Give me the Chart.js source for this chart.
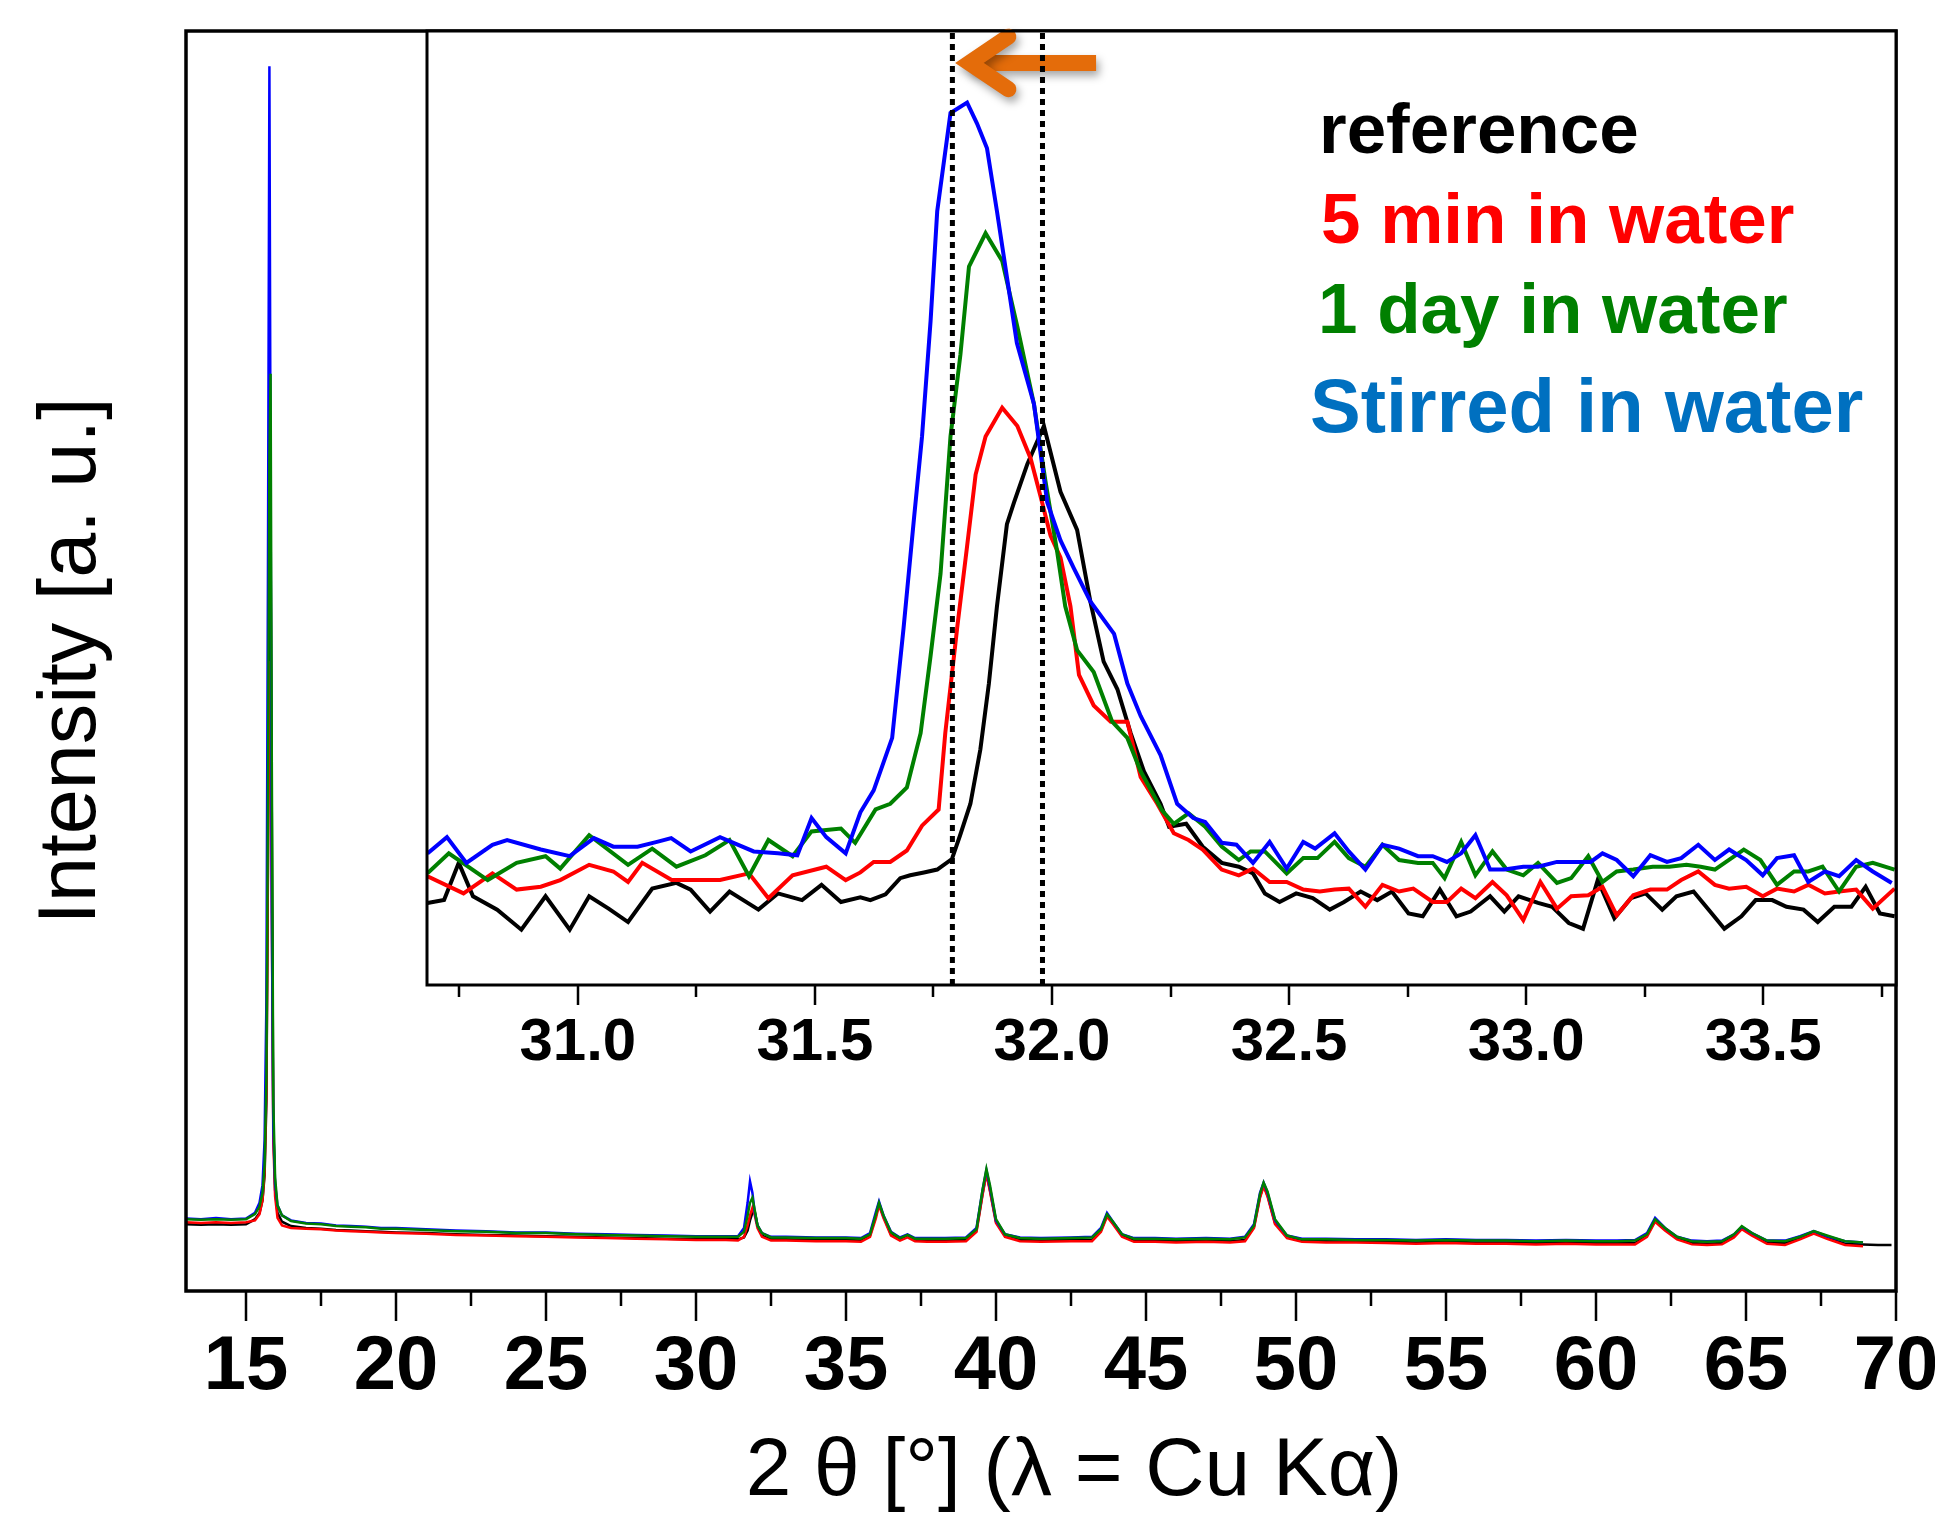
<!DOCTYPE html>
<html>
<head>
<meta charset="utf-8">
<title>XRD</title>
<script src="https://cdn.jsdelivr.net/npm/chart.js@4.4.1/dist/chart.umd.min.js"></script>
<style>
	html, body { margin: 0; padding: 0; background: #fff; }
	#quadro { position: relative; width: 1935px; height: 1522px; }
	canvas { position: absolute; left: 0; top: 0; }
	#inset { pointer-events: none; }
</style>
</head>
<body>
<div id="quadro">
	<canvas id="principal" width="1935" height="1522"></canvas>
	<canvas id="inset" width="1935" height="1522"></canvas>
</div>
<script>
// main pattern, 2 theta (deg) and intensity (a.u.)
var mainTheta = [
	13.0, 13.5, 14.0, 14.5, 15.0,
	15.3, 15.45, 15.55, 15.62, 15.68, 15.73, 15.78, 15.82, 15.86, 15.91, 15.97, 16.05, 16.2, 16.5,
	17.0, 17.5, 18.0, 18.5, 19.0, 19.5, 20.0, 21.0, 22.0, 23.0, 24.0, 25.0, 26.0, 27.0, 28.0, 29.0, 30.0, 31.0,
	31.4, 31.6, 31.72, 31.8, 31.88, 31.96, 32.05, 32.2, 32.5, 33.0, 34.0, 35.0,
	35.5, 35.8, 36.0, 36.1, 36.25, 36.5, 36.8, 37.05, 37.3, 37.7, 38.3,
	39.0, 39.35, 39.55, 39.68, 39.8, 40.0, 40.3, 40.8, 41.5, 42.5,
	43.2, 43.5, 43.7, 43.9, 44.2, 44.6, 45.3, 46.0, 47.0, 47.8,
	48.3, 48.6, 48.8, 48.92, 49.05, 49.3, 49.7, 50.2, 51.0, 52.0,
	53.0, 54.0, 55.0, 56.0, 57.0, 58.0, 59.0, 60.0, 60.7,
	61.3, 61.7, 61.97, 62.3, 62.7, 63.2, 63.7,
	64.2, 64.6, 64.86, 65.2, 65.7, 66.3, 66.8, 67.26, 67.7, 68.3, 68.9, 69.4, 69.85
];
var mainReference = [
	53, 52.5, 53, 52.5, 53,
	57, 62, 72, 92, 150, 330, 560, 595, 380, 130, 80, 62, 55, 51.5,
	50, 49.5, 48.5, 48, 47.5, 47, 46.5, 46, 45, 44.5, 44, 43.5, 43, 42.5, 42, 41.5, 41, 41,
	41, 42.5, 48, 56, 62, 63, 52, 44, 41, 41, 40.5, 40.5,
	40, 44, 60, 69, 59, 45, 41, 43.5, 40.5, 40, 40,
	40.5, 48, 77, 94, 80, 55, 44, 40.5, 40, 40.5,
	40.5, 48, 60, 54, 44, 40, 40, 39.5, 40, 39.5,
	40.5, 51, 75, 84, 76, 54, 43, 40, 39.5, 39.5,
	39, 38.5, 39, 38.5, 38.5, 38, 38.5, 38, 38,
	38, 44, 56, 49, 42, 38, 37.5,
	38, 43.5, 50, 45, 38.5, 38, 42, 46.5, 42.5, 37.5, 37, 36.5, 36.5
];
var main5min = [
	54.5, 54, 54.5, 54, 54.5,
	56, 61, 72, 95, 160, 340, 500, 470, 300, 120, 75, 58, 52, 50,
	49.5, 49, 48, 47.5, 47, 46.5, 46, 45.5, 44.5, 44, 43.5, 43, 42.5, 42, 41.5, 41, 40.5, 40.5,
	40, 43, 52, 60, 66, 60, 50, 43, 40, 40, 39.5, 39.5,
	39, 43, 58, 68, 58, 44, 40, 42.5, 39.5, 39, 39,
	39.5, 47, 76, 93, 79, 54, 43, 39.5, 39, 39.5,
	39.5, 47, 59, 53, 43, 39, 39, 38.5, 39, 38.5,
	39.5, 50, 74, 83, 75, 53, 42, 39, 38.5, 38.5,
	38, 37.5, 38, 37.5, 37.5, 37, 37.5, 37, 37,
	37, 43, 55, 48, 41, 37, 36.5,
	37, 42.5, 49, 44, 37.5, 36.5, 41, 45.5, 41.5, 36.5, 35.5, null, null
];
var main1day = [
	57, 56.5, 57, 56.5, 57,
	61, 67, 78, 100, 170, 380, 660, 728, 420, 150, 90, 68, 60, 55.5,
	53.5, 53, 51.5, 51, 50.5, 49.5, 49.5, 48.5, 47.5, 47, 46, 46, 45, 44.5, 44, 43.5, 43, 43,
	43, 47, 60, 70, 74, 64, 52, 46, 42.5, 42.5, 42, 42,
	41.5, 45, 61, 70, 60, 46.5, 42, 44.5, 41.5, 41.5, 41.5,
	42, 49, 80, 97, 84, 57, 45, 42, 41.5, 42,
	42.5, 49, 61, 55, 45, 41.5, 41.5, 41, 41.5, 41,
	42.5, 52, 77, 86, 79, 57, 44, 41, 41, 40.5,
	40.5, 40, 40.5, 40, 40, 39.5, 40, 39.5, 39.5,
	40, 45, 57, 50, 43, 39.5, 39,
	39.5, 45, 51.5, 46, 40, 39.5, 43, 47.5, 44, 39.5, 38.5, null, null
];
var mainStirred = [
	57.5, 57, 58, 57, 57.5,
	62, 70, 84, 120, 230, 560, 972, 640, 300, 130, 85, 68, 60, 56,
	54, 53.5, 52, 51.5, 51, 50, 50, 49, 48, 47.5, 46.5, 46.5, 45.5, 45, 44.5, 44, 43.5, 43.5,
	43.5, 50, 70, 87, 78, 62, 52, 46, 43, 43, 42.5, 42.5,
	42, 46, 63, 71, 60, 47, 42.5, 45, 42, 42, 42,
	42.5, 50, 80, 96, 82, 56, 45, 42.5, 42, 42.5,
	43, 50, 62, 55, 45, 42, 42, 41.5, 42, 41.5,
	43, 53, 78, 86, 78, 56, 44, 41.5, 41.5, 41,
	41, 40.5, 41, 40.5, 40.5, 40, 40.5, 40, 40,
	40.5, 46, 58, 50, 43, 40, 39.5,
	40, 45, 51, 46, 40, 40, 43.5, 47.5, 43.5, 39.5, 38.5, null, null
];
var mainMajorTicks = [15, 20, 25, 30, 35, 40, 45, 50, 55, 60, 65, 70];
var mainMinorTicks = [17.5, 22.5, 27.5, 32.5, 37.5, 42.5, 47.5, 52.5, 57.5, 62.5, 67.5];

// inset around the 32 deg reflection, [2 theta, intensity]
var insetReference = [
	[30.683,8.6],[30.718,8.9],[30.749,12.8],[30.779,9.3],[30.830,7.9],[30.881,5.8],[30.932,9.3],[30.983,5.8],
	[31.024,9.3],[31.065,8.0],[31.106,6.6],[31.157,10.1],[31.208,10.7],[31.238,10.0],[31.279,7.7],[31.320,9.8],
	[31.381,7.9],[31.422,9.6],[31.473,8.9],[31.514,10.5],[31.555,8.7],[31.596,9.2],[31.617,8.9],[31.649,9.5],
	[31.680,11.2],[31.701,11.5],[31.730,11.8],[31.758,12.1],[31.789,13.2],[31.807,15.8],[31.828,19.0],[31.849,24.7],
	[31.867,31.6],[31.884,39.7],[31.905,48.3],[31.920,50.6],[31.948,54.6],[31.983,58.6],[32.018,51.7],[32.053,47.7],
	[32.081,40.2],[32.109,33.9],[32.138,31.0],[32.166,26.4],[32.194,22.4],[32.229,19.0],[32.247,16.6],[32.283,16.9],
	[32.318,14.5],[32.358,12.8],[32.394,12.4],[32.424,11.7],[32.449,9.6],[32.480,8.7],[32.515,9.6],[32.550,9.1],
	[32.586,7.9],[32.616,8.7],[32.651,9.8],[32.686,8.9],[32.717,9.8],[32.752,7.5],[32.782,7.2],[32.818,10.0],
	[32.853,7.2],[32.883,7.7],[32.924,9.3],[32.954,7.7],[32.984,9.3],[33.025,8.6],[33.055,8.2],[33.090,6.5],
	[33.120,5.9],[33.151,11.0],[33.186,7.0],[33.221,9.1],[33.252,9.6],[33.287,7.9],[33.317,9.3],[33.353,9.8],
	[33.388,7.7],[33.418,5.9],[33.454,7.2],[33.484,8.9],[33.519,8.9],[33.549,8.2],[33.585,7.9],[33.615,6.6],
	[33.650,8.2],[33.686,8.2],[33.716,10.3],[33.746,7.5],[33.777,7.2]
];
var inset5min = [
	[30.683,11.4],[30.759,9.6],[30.820,11.7],[30.871,10.0],[30.922,10.3],[30.963,11.0],[31.024,12.6],[31.075,11.9],
	[31.106,10.8],[31.136,12.8],[31.198,11.0],[31.300,11.0],[31.361,11.7],[31.402,9.1],[31.453,11.5],[31.524,12.4],
	[31.565,11.0],[31.596,11.8],[31.624,12.9],[31.659,12.9],[31.694,14.1],[31.726,16.7],[31.761,18.4],[31.775,26.4],
	[31.800,37.4],[31.821,46.0],[31.839,53.5],[31.860,57.5],[31.895,60.5],[31.927,58.6],[31.955,55.2],[31.976,51.2],
	[31.997,47.1],[32.018,44.8],[32.039,39.7],[32.057,32.5],[32.088,29.3],[32.124,27.6],[32.159,27.6],[32.187,21.8],
	[32.222,19.0],[32.257,15.9],[32.288,15.2],[32.318,14.2],[32.358,12.1],[32.394,11.5],[32.424,12.2],[32.459,10.8],
	[32.495,10.8],[32.530,10.0],[32.565,9.8],[32.596,10.0],[32.626,10.1],[32.661,8.2],[32.697,10.5],[32.732,9.8],
	[32.762,10.1],[32.803,8.7],[32.833,8.7],[32.863,10.1],[32.893,9.1],[32.929,10.8],[32.959,9.4],[32.994,6.8],
	[33.030,10.8],[33.065,8.0],[33.095,9.3],[33.131,9.4],[33.161,10.3],[33.191,7.3],[33.226,9.4],[33.262,10.0],
	[33.297,10.0],[33.327,11.0],[33.363,11.9],[33.398,10.5],[33.428,10.1],[33.464,10.3],[33.499,9.3],[33.529,10.1],
	[33.565,9.8],[33.595,10.5],[33.630,9.6],[33.660,9.8],[33.696,10.0],[33.731,8.0],[33.777,10.1]
];
var inset1day = [
	[30.683,11.7],[30.728,13.8],[30.810,11.0],[30.871,12.8],[30.932,13.5],[30.963,12.2],[31.024,15.7],[31.106,12.6],
	[31.157,14.3],[31.208,12.4],[31.269,13.6],[31.320,15.2],[31.361,11.4],[31.402,15.2],[31.453,13.5],[31.493,16.1],
	[31.555,16.4],[31.585,14.9],[31.628,18.4],[31.659,19.0],[31.694,20.7],[31.723,26.4],[31.744,34.5],[31.765,43.1],
	[31.786,57.5],[31.807,66.1],[31.825,75.3],[31.860,78.8],[31.895,75.9],[31.927,69.0],[31.962,60.9],[31.986,52.9],
	[32.011,45.4],[32.028,39.7],[32.053,35.1],[32.088,32.8],[32.127,27.6],[32.159,25.9],[32.187,22.4],[32.232,18.3],
	[32.257,16.9],[32.288,18.0],[32.323,16.6],[32.358,14.5],[32.394,13.1],[32.419,14.0],[32.449,14.0],[32.495,11.7],
	[32.530,13.3],[32.560,13.3],[32.596,15.0],[32.626,13.3],[32.661,12.4],[32.697,14.7],[32.732,13.1],[32.772,12.8],
	[32.803,12.8],[32.828,11.2],[32.863,15.0],[32.893,11.5],[32.929,14.0],[32.959,12.1],[32.994,11.5],[33.025,12.8],
	[33.065,10.7],[33.095,11.2],[33.131,13.5],[33.161,10.8],[33.191,11.9],[33.226,12.1],[33.267,12.4],[33.302,12.4],
	[33.338,12.6],[33.368,12.4],[33.398,12.1],[33.459,14.2],[33.494,13.1],[33.529,10.5],[33.565,11.9],[33.595,11.9],
	[33.625,12.4],[33.660,9.8],[33.696,12.4],[33.731,12.8],[33.777,12.1]
];
var insetStirred = [
	[30.683,13.8],[30.724,15.5],[30.765,12.8],[30.820,14.7],[30.851,15.2],[30.922,14.2],[30.983,13.5],[31.034,15.4],
	[31.075,14.5],[31.126,14.5],[31.167,15.0],[31.197,15.4],[31.238,14.0],[31.300,15.5],[31.371,14.0],[31.422,13.8],
	[31.463,13.6],[31.493,17.5],[31.524,15.5],[31.565,13.8],[31.596,18.1],[31.624,20.4],[31.663,25.9],[31.687,37.4],
	[31.709,48.9],[31.726,57.5],[31.744,69.6],[31.758,81.1],[31.786,91.4],[31.821,92.5],[31.842,90.3],[31.863,87.7],
	[31.884,81.1],[31.905,74.2],[31.926,67.3],[31.962,60.9],[31.990,50.6],[32.018,46.6],[32.046,43.7],[32.081,40.2],
	[32.131,36.8],[32.159,31.6],[32.187,28.2],[32.229,24.1],[32.264,19.0],[32.298,17.5],[32.323,17.1],[32.358,14.9],
	[32.389,14.7],[32.424,12.8],[32.459,15.0],[32.495,12.2],[32.530,15.0],[32.555,14.3],[32.596,15.9],[32.626,14.0],
	[32.661,12.1],[32.697,14.7],[32.732,14.3],[32.772,13.5],[32.803,13.5],[32.833,12.9],[32.863,13.8],[32.893,15.7],
	[32.924,12.1],[32.954,12.1],[32.994,12.4],[33.025,12.4],[33.065,12.9],[33.095,12.9],[33.136,12.9],[33.161,13.8],
	[33.191,13.1],[33.226,11.4],[33.262,13.6],[33.297,12.9],[33.327,13.3],[33.363,14.7],[33.398,13.1],[33.428,14.2],
	[33.464,13.1],[33.499,11.5],[33.529,13.3],[33.565,13.6],[33.595,10.8],[33.630,11.9],[33.660,11.4],[33.696,13.1],
	[33.731,11.9],[33.771,10.7]
];
var insetMajorTicks = [31.0, 31.5, 32.0, 32.5, 33.0, 33.5];
var insetMinorTicks = [30.75, 31.25, 31.75, 32.25, 32.75, 33.25, 33.75];
var peakMarkers = [31.79, 31.98];

var seriesNames = ['reference', '5 min in water', '1 day in water', 'Stirred in water'];
var lineColors = ['#000000', '#FF0000', '#008000', '#0000FF'];
var labelColors = ['#000000', '#FF0000', '#008000', '#0070C0'];

var FONTE = '"Liberation Sans", Arial, Helvetica, sans-serif';
Chart.defaults.font.family = FONTE;
Chart.defaults.color = '#000';

function pontos(theta, valores) {
	return theta.map(function(t, i) { return {x: t, y: valores[i]}; });
}
function pares(lista) {
	return lista.map(function(p) { return {x: p[0], y: p[1]}; });
}

// tick marks and frame, drawn from the chart's own x scale
function moldura(cfg) {
	return {
		id: 'moldura',
		beforeDraw: function(chart) {
			if (!cfg.fundo) return;
			var a = chart.chartArea, ctx = chart.ctx;
			ctx.save();
			ctx.fillStyle = '#fff';
			ctx.fillRect(a.left, a.top, a.right - a.left, a.bottom - a.top);
			ctx.restore();
		},
		afterDraw: function(chart) {
			var a = chart.chartArea, ctx = chart.ctx, x = chart.scales.x;
			ctx.save();
			ctx.strokeStyle = '#000';
			ctx.lineWidth = cfg.tickWidth;
			ctx.beginPath();
			cfg.major.forEach(function(v) {
				var px = Math.round(x.getPixelForValue(v));
				ctx.moveTo(px, a.bottom); ctx.lineTo(px, a.bottom + cfg.majorLen);
			});
			cfg.minor.forEach(function(v) {
				var px = Math.round(x.getPixelForValue(v));
				ctx.moveTo(px, a.bottom); ctx.lineTo(px, a.bottom + cfg.minorLen);
			});
			ctx.stroke();
			ctx.lineWidth = cfg.frameWidth;
			ctx.strokeRect(a.left, a.top, a.right - a.left, a.bottom - a.top);
			ctx.restore();
		}
	};
}

var tituloX = {
	id: 'tituloX',
	afterDraw: function(chart) {
		var ctx = chart.ctx;
		ctx.save();
		ctx.font = '82px ' + FONTE;
		ctx.fillStyle = '#000';
		ctx.textAlign = 'center';
		ctx.textBaseline = 'middle';
		ctx.fillText('2 \u03b8 [\u00b0] (\u03bb = Cu K\u03b1)', 1074, 1472);
		ctx.restore();
	}
};

var seta = {
	id: 'seta',
	beforeDatasetsDraw: function(chart) {
		var ctx = chart.ctx, x = chart.scales.x, y = chart.scales.y;
		var ponta = x.getPixelForValue(31.826), cauda = x.getPixelForValue(32.093), braco = x.getPixelForValue(31.908);
		var yc = y.getPixelForValue(96.65), yAlto = y.getPixelForValue(99.4), yBaixo = y.getPixelForValue(93.9);
		ctx.save();
		ctx.shadowColor = 'rgba(0,0,0,0.35)';
		ctx.shadowBlur = 8;
		ctx.shadowOffsetX = 3;
		ctx.shadowOffsetY = 5;
		ctx.strokeStyle = '#E46C0A';
		ctx.lineWidth = 16;
		ctx.lineCap = 'butt';
		ctx.beginPath();
		ctx.moveTo(cauda, yc);
		ctx.lineTo(ponta, yc);
		ctx.stroke();
		ctx.lineCap = 'round';
		ctx.lineJoin = 'miter';
		ctx.beginPath();
		ctx.moveTo(braco, yAlto);
		ctx.lineTo(ponta, yc);
		ctx.lineTo(braco, yBaixo);
		ctx.stroke();
		ctx.restore();
	}
};

var legenda = {
	id: 'legenda',
	afterDatasetsDraw: function(chart) {
		var ctx = chart.ctx;
		var xs = [1319, 1321, 1318, 1310];
		var ys = [153, 243, 333, 432];
		var tam = [71, 71, 71, 76];
		ctx.save();
		ctx.textAlign = 'left';
		ctx.textBaseline = 'alphabetic';
		seriesNames.forEach(function(nome, i) {
			ctx.font = 'bold ' + tam[i] + 'px ' + FONTE;
			ctx.fillStyle = labelColors[i];
			ctx.fillText(nome, xs[i], ys[i]);
		});
		ctx.restore();
	}
};

function linha(rotulo, dados, cor, largura, ordem) {
	return {
		label: rotulo,
		data: dados,
		borderColor: cor,
		backgroundColor: cor,
		borderWidth: largura,
		pointRadius: 0,
		tension: 0,
		fill: false,
		order: ordem
	};
}

var graficoPrincipal = new Chart(document.getElementById('principal'), {
	type: 'line',
	data: {
		datasets: [
			linha(seriesNames[0], pontos(mainTheta, mainReference), lineColors[0], 2.5, 4),
			linha(seriesNames[1], pontos(mainTheta, main5min), lineColors[1], 2.5, 3),
			linha(seriesNames[2], pontos(mainTheta, main1day), lineColors[2], 2.5, 1),
			linha(seriesNames[3], pontos(mainTheta, mainStirred), lineColors[3], 2.5, 2)
		]
	},
	options: {
		responsive: false,
		animation: false,
		devicePixelRatio: 1,
		layout: { padding: { left: 0, top: 31, right: 39, bottom: 0 } },
		plugins: { legend: { display: false }, tooltip: { enabled: false } },
		scales: {
			x: {
				type: 'linear', min: 13, max: 70,
				grid: { display: false, drawTicks: false },
				border: { display: false },
				afterBuildTicks: function(s) { s.ticks = mainMajorTicks.map(function(v) { return {value: v}; }); },
				afterFit: function(s) { s.height = 231; s.paddingLeft = 0; s.paddingRight = 0; },
				ticks: {
					autoSkip: false, maxRotation: 0, padding: 31, color: '#000',
					font: { size: 76, weight: 'bold' },
					callback: function(v) { return String(v); }
				}
			},
			y: {
				min: 0, max: 1000,
				grid: { display: false, drawTicks: false },
				border: { display: false },
				ticks: { display: false },
				afterFit: function(s) { s.width = 186; },
				title: { display: true, text: 'Intensity [a. u.]', color: '#000', font: { size: 81 }, padding: { top: 24, bottom: 0 } }
			}
		}
	},
	plugins: [moldura({ major: mainMajorTicks, minor: mainMinorTicks, majorLen: 30, minorLen: 15, tickWidth: 2.5, frameWidth: 3.5, fundo: false }), tituloX]
});

var marcadores = peakMarkers.map(function(t) {
	return {
		label: 'pico',
		data: [{x: t, y: 0}, {x: t, y: 100}],
		borderColor: '#000',
		borderWidth: 5,
		borderDash: [6, 5],
		pointRadius: 0,
		fill: false,
		order: 0
	};
});

var graficoInset = new Chart(document.getElementById('inset'), {
	type: 'line',
	data: {
		datasets: [
			linha(seriesNames[0], pares(insetReference), lineColors[0], 4, 4),
			linha(seriesNames[1], pares(inset5min), lineColors[1], 4, 3),
			linha(seriesNames[2], pares(inset1day), lineColors[2], 4, 2),
			linha(seriesNames[3], pares(insetStirred), lineColors[3], 4, 1)
		].concat(marcadores)
	},
	options: {
		responsive: false,
		animation: false,
		devicePixelRatio: 1,
		layout: { padding: { left: 427, top: 31, right: 39, bottom: 437 } },
		plugins: { legend: { display: false }, tooltip: { enabled: false } },
		scales: {
			x: {
				type: 'linear', min: 30.682, max: 33.78,
				grid: { display: false, drawTicks: false },
				border: { display: false },
				afterBuildTicks: function(s) { s.ticks = insetMajorTicks.map(function(v) { return {value: v}; }); },
				afterFit: function(s) { s.height = 100; s.paddingLeft = 0; s.paddingRight = 0; },
				ticks: {
					autoSkip: false, maxRotation: 0, padding: 22, color: '#000',
					font: { size: 60, weight: 'bold' },
					callback: function(v) { return v.toFixed(1); }
				}
			},
			y: { display: false, min: 0, max: 100 }
		}
	},
	plugins: [moldura({ major: insetMajorTicks, minor: insetMinorTicks, majorLen: 20, minorLen: 12, tickWidth: 2.5, frameWidth: 3, fundo: true }), seta, legenda]
});
</script>
</body>
</html>
